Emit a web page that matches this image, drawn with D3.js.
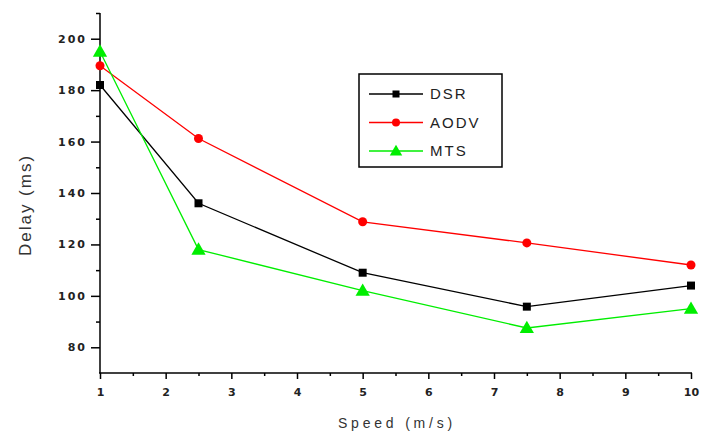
<!DOCTYPE html>
<html><head><meta charset="utf-8">
<script src="https://cdn.jsdelivr.net/npm/d3@7"></script>
<style>body{margin:0;background:#fff}svg{display:block}</style>
</head><body>
<svg id="c" width="706" height="433"></svg>
<script>
const speeds = [1, 2.5, 5, 7.5, 10];
const dsr  = [182, 136, 109, 95.8, 104];
const aodv = [189.5, 161.2, 128.8, 120.6, 112];
const mts  = [195, 118, 102, 87.5, 95];
const seriesNames = ["DSR", "AODV", "MTS"];
const seriesColors = ["#000000", "#ff0000", "#00ee00"];
const seriesMarkers = ["square", "circle", "triangle"];
const xTicks = [1,2,3,4,5,6,7,8,9,10];
const yTicks = [80,100,120,140,160,180,200];

const svg = d3.select("#c");
const x = d3.scaleLinear().domain([1, 10]).range([100, 691]);
const y = d3.scaleLinear().domain([70, 210]).range([373, 13]);
const tickFont = "'DejaVu Sans', sans-serif";

// Y axis
const ya = svg.append("g").attr("transform","translate(100,0)")
  .call(d3.axisLeft(y).tickValues(yTicks).tickSize(9).tickPadding(4).tickFormat(d3.format("d")));
ya.append("g").call(d3.axisLeft(y).tickValues([210,190,170,150,130,110,90]).tickSize(4).tickFormat(""));
ya.selectAll("path.domain").remove();
ya.append("line").attr("x1",0).attr("x2",0).attr("y1",y(210)).attr("y2",y(70)).attr("stroke","#000").attr("stroke-width",2);
ya.selectAll("line").attr("stroke","#000").attr("stroke-width",1.5);
ya.selectAll("text").attr("font-family",tickFont).attr("font-size",11).attr("font-weight","bold").attr("letter-spacing","2px").attr("fill","#222");

// X axis
const xa = svg.append("g").attr("transform","translate(0,373)")
  .call(d3.axisBottom(x).tickValues(xTicks).tickSize(6).tickPadding(9).tickFormat(d3.format("d")));
xa.append("g").call(d3.axisBottom(x).tickValues([1.5,2.5,3.5,4.5,5.5,6.5,7.5,8.5,9.5]).tickSize(3).tickFormat(""));
xa.selectAll("path.domain").remove();
xa.append("line").attr("x1",x(1)-1).attr("x2",x(10)+1).attr("y1",0).attr("y2",0).attr("stroke","#000").attr("stroke-width",2);
xa.selectAll("line").attr("stroke","#000").attr("stroke-width",1.5);
xa.selectAll("text").attr("font-family",tickFont).attr("font-size",11).attr("font-weight","bold").attr("fill","#222");

// Titles
svg.append("text").attr("transform","translate(31,205) rotate(-90)").attr("text-anchor","middle").attr("letter-spacing","2px")
  .attr("font-family","'Liberation Sans', Arial, sans-serif").attr("font-size",17).attr("fill","#333").text("Delay (ms)");
svg.append("text").attr("x",397).attr("y",428).attr("text-anchor","middle").attr("letter-spacing","3.8px")
  .attr("font-family","'Liberation Sans', Arial, sans-serif").attr("font-size",14).attr("fill","#333").text("Speed (m/s)");

function marker(g, type, cx, cy, color, s){
  if(type==="square") g.append("rect").attr("x",cx-s).attr("y",cy-s).attr("width",2*s).attr("height",2*s).attr("fill",color);
  else if(type==="circle") g.append("circle").attr("cx",cx).attr("cy",cy).attr("r",s+0.5).attr("fill",color);
  else g.append("path").attr("d",d3.symbol().type(d3.symbolTriangle).size(s*s*5.5)()).attr("transform",`translate(${cx},${cy+1})`).attr("fill",color);
}

const allData = [dsr, aodv, mts];
const line = d3.line().x((d,i)=>x(speeds[i])).y(d=>y(d));
allData.forEach((vals, k) => {
  const g = svg.append("g");
  g.append("path").attr("d", line(vals)).attr("fill","none").attr("stroke",seriesColors[k]).attr("stroke-width",1.3);
  vals.forEach((v,i)=> marker(g, seriesMarkers[k], x(speeds[i]), y(v), seriesColors[k], 4));
});

// Legend
const lg = svg.append("g");
lg.append("rect").attr("x",359).attr("y",74).attr("width",143).attr("height",93).attr("fill","#fff").attr("stroke","#000").attr("stroke-width",1.5);
seriesNames.forEach((n,k)=>{
  const ry = 94 + k*28.5;
  lg.append("line").attr("x1",369).attr("x2",423).attr("y1",ry).attr("y2",ry).attr("stroke",seriesColors[k]).attr("stroke-width",1.3);
  marker(lg, seriesMarkers[k], 396, ry, seriesColors[k], 3.5);
  lg.append("text").attr("x",430).attr("y",ry+5).attr("font-family","'Liberation Sans', Arial, sans-serif")
    .attr("font-size",15).attr("letter-spacing","2px").attr("fill","#222").text(n);
});
</script>
</body></html>
